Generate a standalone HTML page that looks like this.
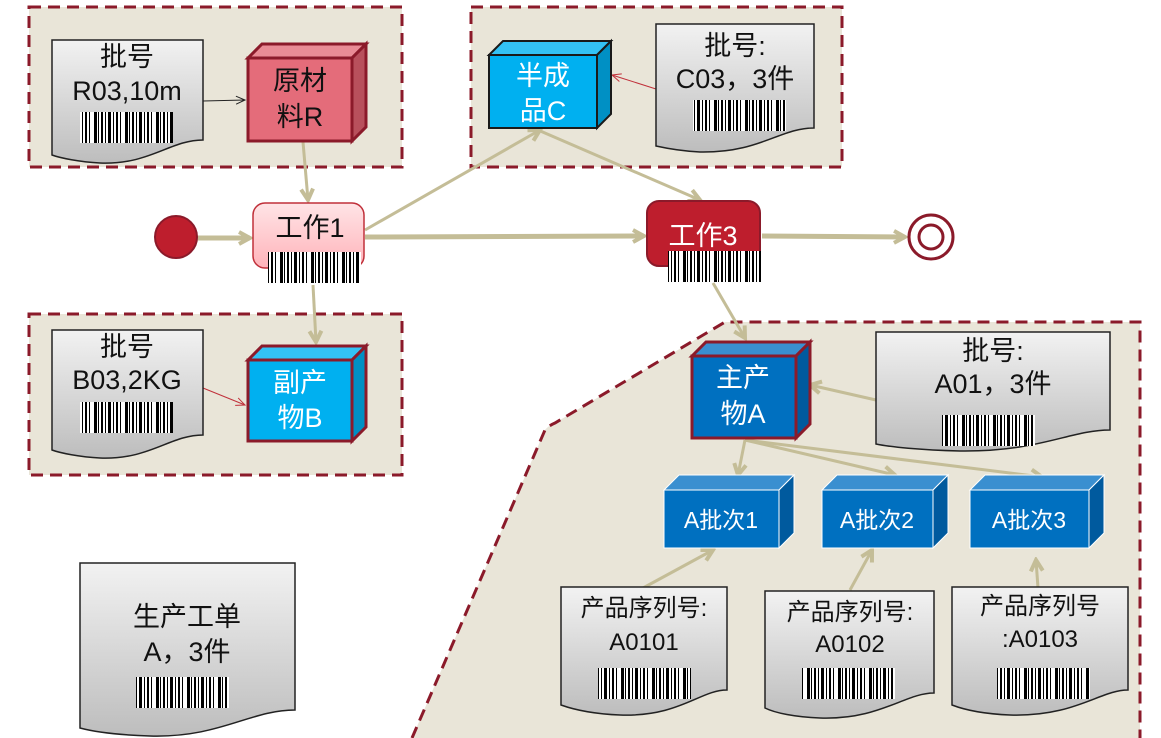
<!DOCTYPE html>
<html><head><meta charset="utf-8"><style>
html,body{margin:0;padding:0;background:#fff;}
svg{display:block;font-family:"Liberation Sans","Noto Sans CJK SC",sans-serif;}
</style></head><body>
<svg width="1161" height="738" viewBox="0 0 1161 738" xmlns="http://www.w3.org/2000/svg">
<defs>
<linearGradient id="dg" x1="0" y1="0" x2="0" y2="1"><stop offset="0" stop-color="#f2f2f2"/><stop offset="1" stop-color="#bdbdbd"/></linearGradient>
<linearGradient id="pg" x1="0" y1="0" x2="0" y2="1"><stop offset="0" stop-color="#ffe4e6"/><stop offset="1" stop-color="#ffb3ba"/></linearGradient>
<pattern id="bc" width="31" height="40" patternUnits="userSpaceOnUse">
<rect width="31" height="40" fill="#fff"/>
<rect x="1" width="3" height="40" fill="#000"/><rect x="5" width="1" height="40" fill="#000"/>
<rect x="8" width="2" height="40" fill="#000"/><rect x="12" width="1" height="40" fill="#000"/>
<rect x="15" width="3" height="40" fill="#000"/><rect x="20" width="1" height="40" fill="#000"/>
<rect x="23" width="2" height="40" fill="#000"/><rect x="27" width="1" height="40" fill="#000"/>
</pattern>
<marker id="ah" markerWidth="10" markerHeight="10" refX="8" refY="5" orient="auto" markerUnits="userSpaceOnUse">
<path d="M1,1 L8,5 L1,9" fill="none" stroke="#c4bd97" stroke-width="3"/></marker>
<marker id="ahb" markerWidth="16" markerHeight="16" refX="13" refY="8" orient="auto" markerUnits="userSpaceOnUse">
<path d="M2,2 L13,8 L2,14" fill="none" stroke="#c4bd97" stroke-width="4"/></marker>
<marker id="ahk" markerWidth="12" markerHeight="10" refX="10" refY="5" orient="auto" markerUnits="userSpaceOnUse">
<path d="M1,1 L10,5 L1,9" fill="none" stroke="#222" stroke-width="1"/></marker>
<marker id="ahr" markerWidth="12" markerHeight="10" refX="10" refY="5" orient="auto" markerUnits="userSpaceOnUse">
<path d="M1,1 L10,5 L1,9" fill="none" stroke="#c0303a" stroke-width="1"/></marker>
</defs>

<!-- panels -->
<g fill="#e9e5d8" stroke="#8b1a2a" stroke-width="3" stroke-dasharray="12,7">
<rect x="29" y="7" width="373" height="160"/>
<rect x="471" y="7" width="371" height="160"/>
<rect x="29" y="314" width="373" height="161"/>
<path d="M412,738 L545,430 Q548,426 555,423 L725,322 L1140,322 L1140,738"/>
</g>

<!-- connectors -->
<g stroke="#c4bd97" fill="none">
<line x1="197" y1="238" x2="250" y2="238" stroke-width="5" marker-end="url(#ahb)"/>
<line x1="365" y1="237" x2="644" y2="236" stroke-width="5" marker-end="url(#ahb)"/>
<line x1="762" y1="236" x2="905" y2="237" stroke-width="5" marker-end="url(#ahb)"/>
<line x1="303" y1="142" x2="308" y2="200" stroke-width="3" marker-end="url(#ahb)"/>
<line x1="313" y1="285" x2="316" y2="342" stroke-width="3" marker-end="url(#ahb)"/>
<line x1="365" y1="230" x2="540" y2="130" stroke-width="3" marker-end="url(#ahb)"/>
<line x1="538" y1="130" x2="700" y2="200" stroke-width="3" marker-end="url(#ahb)"/>
<line x1="713" y1="283" x2="745" y2="338" stroke-width="3" marker-end="url(#ahb)"/>
<line x1="876" y1="400" x2="810" y2="385" stroke-width="3" marker-end="url(#ahb)"/>
<line x1="745" y1="440" x2="738" y2="475" stroke-width="3" marker-end="url(#ahb)"/>
<line x1="745" y1="440" x2="895" y2="475" stroke-width="3" marker-end="url(#ahb)"/>
<line x1="745" y1="440" x2="1042" y2="477" stroke-width="3" marker-end="url(#ahb)"/>
<line x1="643" y1="588" x2="713" y2="550" stroke-width="3" marker-end="url(#ahb)"/>
<line x1="850" y1="590" x2="872" y2="550" stroke-width="3" marker-end="url(#ahb)"/>
<line x1="1038" y1="588" x2="1036" y2="560" stroke-width="3" marker-end="url(#ahb)"/>
</g>
<line x1="203" y1="101" x2="245" y2="100" stroke="#222" stroke-width="1" marker-end="url(#ahk)"/>
<line x1="203" y1="388" x2="245" y2="405" stroke="#c0303a" stroke-width="1" marker-end="url(#ahr)"/>
<line x1="656" y1="89" x2="612" y2="75" stroke="#c0303a" stroke-width="1" marker-end="url(#ahr)"/>

<!-- start / end -->
<circle cx="176" cy="237" r="21" fill="#be1e2d" stroke="#8b1a2a" stroke-width="2"/>
<circle cx="931" cy="237" r="22" fill="#fff" stroke="#8b1a2a" stroke-width="3"/>
<circle cx="931" cy="237" r="12" fill="#fff" stroke="#8b1a2a" stroke-width="3"/>

<!-- documents -->
<g stroke="#222" stroke-width="1.5" fill="url(#dg)">
<path d="M52,40 H203 V140 C170,140 150,165 100,163 C80,162 60,158 52,155 Z"/>
<path d="M656,24 H814 V128 C780,128 760,153 700,152 C680,151 665,148 656,146 Z"/>
<path d="M52,330 H203 V435 C170,435 150,460 100,458 C80,457 60,453 52,450 Z"/>
<path d="M876,332 H1110 V430 C1070,430 1040,452 960,451 C920,450 890,447 876,444 Z"/>
<path d="M561,587 H727 V690 C700,690 680,717 620,715 C595,714 575,710 561,705 Z"/>
<path d="M765,591 H934 V693 C905,693 880,720 820,718 C795,717 775,713 765,708 Z"/>
<path d="M952,587 H1128 V690 C1100,690 1075,717 1010,715 C985,714 965,710 952,705 Z"/>
<path d="M80,563 H295 V710 C250,710 220,738 150,736 C120,735 95,732 80,728 Z"/>
</g>

<!-- cubes -->
<g stroke="#8b1a2a" stroke-width="3">
<path d="M248,58 L262,44 H366 L352,58 Z" fill="#e98b95"/>
<path d="M352,58 L366,44 V127 L352,141 Z" fill="#b8505c"/>
<rect x="248" y="58" width="104" height="83" fill="#e46c7a"/>
<path d="M248,360 L262,346 H366 L352,360 Z" fill="#33c2f5"/>
<path d="M352,360 L366,346 V427 L352,441 Z" fill="#0090c4"/>
<rect x="248" y="360" width="104" height="81" fill="#00b0f0"/>
<path d="M692,356 L706,342 H810 L796,356 Z" fill="#3a8fd0"/>
<path d="M796,356 L810,342 V424 L796,438 Z" fill="#005a9e"/>
<rect x="692" y="356" width="104" height="82" fill="#0070c0"/>
</g>
<g stroke="#1a1a1a" stroke-width="2">
<path d="M489,55 L503,41 H611 L597,55 Z" fill="#33c2f5"/>
<path d="M597,55 L611,41 V114 L597,128 Z" fill="#0090c4"/>
<rect x="489" y="55" width="108" height="73" fill="#00b0f0"/>
</g>
<g stroke="#ffffff" stroke-width="1">
<path d="M664,490 L679,475 H794 L779,490 Z" fill="#3a8fd0"/>
<path d="M779,490 L794,475 V533 L779,548 Z" fill="#005a9e"/>
<rect x="664" y="490" width="115" height="58" fill="#0070c0"/>
<path d="M822,490 L837,475 H948 L933,490 Z" fill="#3a8fd0"/>
<path d="M933,490 L948,475 V533 L933,548 Z" fill="#005a9e"/>
<rect x="822" y="490" width="111" height="58" fill="#0070c0"/>
<path d="M970,490 L985,475 H1104 L1089,490 Z" fill="#3a8fd0"/>
<path d="M1089,490 L1104,475 V533 L1089,548 Z" fill="#005a9e"/>
<rect x="970" y="490" width="119" height="58" fill="#0070c0"/>
</g>

<!-- work nodes -->
<rect x="253" y="203" width="111" height="65" rx="12" fill="url(#pg)" stroke="#c0303a" stroke-width="1.5"/>
<rect x="647" y="201" width="113" height="65" rx="12" fill="#be1e2d" stroke="#8b1a2a" stroke-width="2"/>

<!-- barcodes -->
<g fill="url(#bc)">
<rect x="80" y="112" width="93" height="31"/>
<rect x="693" y="100" width="93" height="31"/>
<rect x="80" y="402" width="93" height="31"/>
<rect x="942" y="415" width="93" height="31"/>
<rect x="598" y="668" width="93" height="31"/>
<rect x="802" y="668" width="93" height="31"/>
<rect x="997" y="668" width="93" height="31"/>
<rect x="136" y="677" width="93" height="31"/>
<rect x="268" y="252" width="93" height="31"/>
<rect x="668" y="251" width="93" height="31"/>
</g>

<!-- text -->
<g font-size="27" text-anchor="middle" fill="#111">
<text x="127" y="66">批号</text><text x="127" y="100">R03,10m</text>
<text x="735" y="55">批号:</text><text x="735" y="88">C03，3件</text>
<text x="127" y="356">批号</text><text x="127" y="389">B03,2KG</text>
<text x="993" y="360">批号:</text><text x="993" y="393">A01，3件</text>
<text x="300" y="90">原材</text><text x="300" y="126">料R</text>
<text x="310" y="237">工作1</text>
<text x="187" y="626">生产工单</text><text x="187" y="661">A，3件</text>
</g>
<g font-size="24" text-anchor="middle" fill="#111">
<text x="644" y="616">产品序列号:</text><text x="644" y="650">A0101</text>
<text x="850" y="620">产品序列号:</text><text x="850" y="652">A0102</text>
<text x="1040" y="614">产品序列号</text><text x="1040" y="647">:A0103</text>
</g>
<g font-size="27" text-anchor="middle" fill="#fff">
<text x="543" y="85">半成</text><text x="543" y="120">品C</text>
<text x="300" y="392">副产</text><text x="300" y="427">物B</text>
<text x="743" y="387">主产</text><text x="743" y="423">物A</text>
<text x="703" y="245">工作3</text>
</g>
<g font-size="23" text-anchor="middle" fill="#fff">
<text x="721" y="528">A批次1</text>
<text x="877" y="528">A批次2</text>
<text x="1029" y="528">A批次3</text>
</g>
</svg>
</body></html>
